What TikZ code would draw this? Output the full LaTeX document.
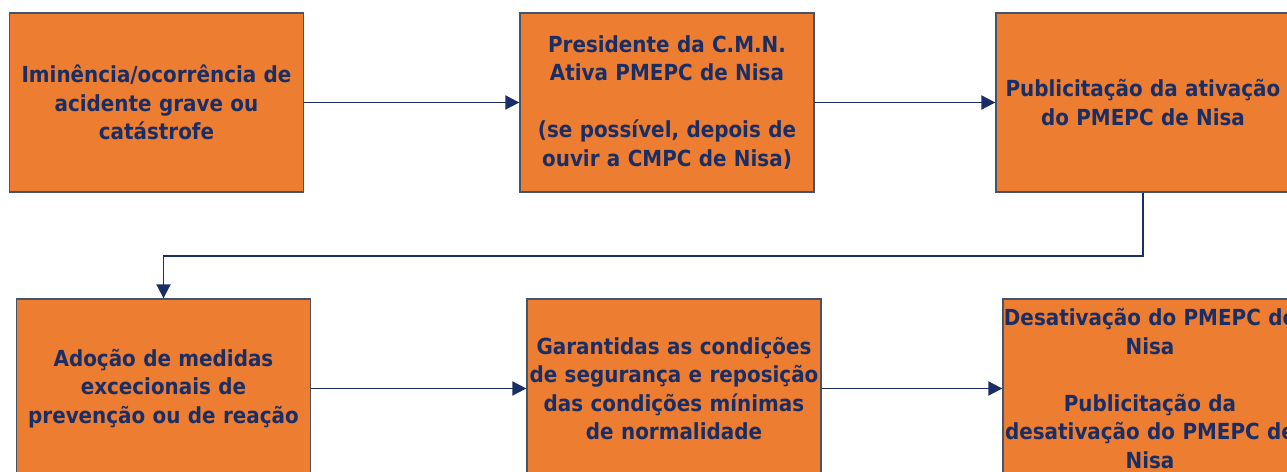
\documentclass[tikz,border=0pt]{standalone}
\usepackage{fontspec}
\setmainfont{DejaVu Sans Condensed}
\usetikzlibrary{arrows.meta}
\definecolor{boxorange}{HTML}{ED7D31}
\definecolor{navy}{HTML}{1A2E66}
\definecolor{boxline}{HTML}{44546A}

\begin{document}
\begin{tikzpicture}[x=0.02cm,y=-0.02cm]
\clip (0,0) rectangle (1287,472);
\begin{scope}[every node/.style={rectangle,draw=boxline,fill=boxorange,line width=0.8pt,
              text width=5.88cm,minimum height=3.58cm,inner sep=0pt,align=center,
              text=navy,font=\bfseries\fontsize{12.6}{16.2}\selectfont}]
    \node (imin) at (156.5,102.5) {Iminência/ocorrência de\\acidente grave ou\\catástrofe};
    \node (pres) at (667,102.5) {Presidente da C.M.N.\\Ativa PMEPC de Nisa\\[16.2pt](se possível, depois de\\ouvir a CMPC de Nisa)};
    \node (pub) at (1143,102.5) {Publicitação da ativação\\do PMEPC de Nisa};
    \node (ado) at (163.5,388.5) {Adoção de medidas\\excecionais de\\prevenção ou de reação};
    \node (gar) at (674,388.5) {Garantidas as condições\\de segurança e reposição\\das condições mínimas\\de normalidade};
    \node (desat) at (1150,388.5) {Desativação do PMEPC de\\Nisa\\[16.2pt]Publicitação da\\desativação do PMEPC de\\Nisa};
\end{scope}
\begin{scope}[>={Triangle[length=0.28cm,width=0.28cm]},
              navy_edge/.style={draw=navy,line width=1.1pt}]
    \coordinate (bend) at (1143,256);
    \path [->] (imin) edge [navy_edge] (pres);
    \path [->] (pres) edge [navy_edge] (pub);
    \draw [->,navy_edge] (pub.south) -- (bend) -| (ado.north);
    \path [->] (ado) edge [navy_edge] (gar);
    \path [->] (gar) edge [navy_edge] (desat);
\end{scope}
\end{tikzpicture}
\end{document}
